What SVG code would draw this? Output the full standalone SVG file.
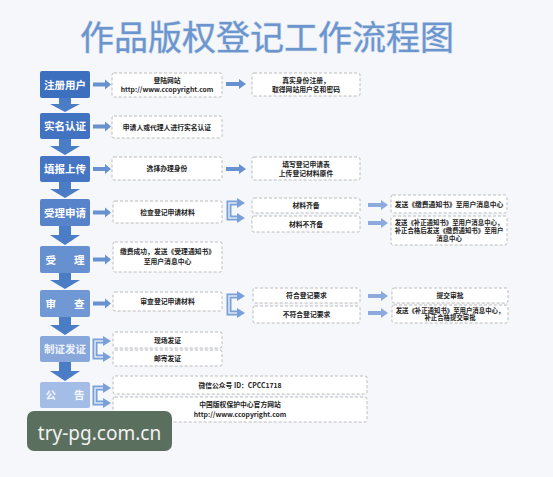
<svg xmlns="http://www.w3.org/2000/svg" width="553" height="477" viewBox="0 0 553 477">
<style>
.bg{fill:#f6f7fa}
.title{font-family:"Noto Sans CJK SC","Noto Sans",sans-serif;font-size:34px;fill:#6c95ce;stroke:#c9d7ec;stroke-width:1.2;paint-order:stroke;text-anchor:middle}
.step text{font-family:"Noto Sans CJK SC","Noto Sans",sans-serif;font-size:10.5px;font-weight:bold;fill:#fff;text-anchor:middle}
.box rect{fill:#fff;stroke:#b4b4b4;stroke-width:0.9;stroke-dasharray:3 2}
.box text{font-family:"Noto Sans CJK SC","Liberation Sans",sans-serif;font-size:6.8px;font-weight:bold;fill:#222;text-anchor:middle}
.down{fill:#4b7cc6}
.ra{fill:#6891cf}
.ra2{fill:#8cabdc}
.br{fill:none;stroke:#7aa0d8;stroke-width:5}
.bri{fill:none;stroke:#dde7f6;stroke-width:1.5}
.bah{fill:#7aa0d8}
.wm{fill:#5b6f5e}
.wmt{font-family:"Noto Sans","Open Sans",sans-serif;font-size:19px;fill:#f2f2f2;text-anchor:middle}
</style>
<rect class="bg" x="0" y="0" width="553" height="477"/>
<text class="title" x="267" y="50">作品版权登记工作流程图</text>

<g id="s1" class="step"><rect x="40" y="71" width="50" height="27" rx="2" fill="#3d6fbf"/><text x="65" y="88.5">注册用户</text></g>
<g id="s2" class="step"><rect x="40" y="113" width="50" height="26" rx="2" fill="#4273c1"/><text x="65" y="130">实名认证</text></g>
<g id="s3" class="step"><rect x="40" y="156" width="50" height="26" rx="2" fill="#4676c3"/><text x="65" y="173">填报上传</text></g>
<g id="s4" class="step"><rect x="40" y="199" width="50" height="27" rx="2" fill="#5683c9"/><text x="65" y="216.5">受理申请</text></g>
<g id="s5" class="step"><rect x="40" y="246" width="50" height="27" rx="2" fill="#6690d0"/><text x="65" y="263.5">受<tspan dx="18">理</tspan></text></g>
<g id="s6" class="step"><rect x="40" y="290" width="50" height="27" rx="2" fill="#7098d4"/><text x="65" y="307.5">审<tspan dx="18">查</tspan></text></g>
<g id="s7" class="step"><rect x="40" y="336" width="50" height="26" rx="2" fill="#88a8dc"/><text x="65" y="353" style="fill:#eef3fb">制证发证</text></g>
<g id="s8" class="step"><rect x="40" y="382" width="50" height="26" rx="2" fill="#a3bde6"/><text x="65" y="399" style="fill:#f4f7fc">公<tspan dx="18">告</tspan></text></g>

<g id="r1a" class="box"><rect x="112" y="73" width="110" height="24" rx="2"/><text x="167" y="83">登陆网站</text><text x="167" y="92">http://www.ccopyright.com</text></g>
<g id="r1b" class="box"><rect x="252" y="73" width="108" height="23" rx="2"/><text x="306" y="82.5">真实身份注册，</text><text x="306" y="91.5">取得网站用户名和密码</text></g>
<g id="r2a" class="box"><rect x="112" y="116" width="110" height="22" rx="2"/><text x="167" y="129.5">申请人或代理人进行实名认证</text></g>
<g id="r3a" class="box"><rect x="112" y="157" width="110" height="23" rx="2"/><text x="167" y="171">选择办理身份</text></g>
<g id="r3b" class="box"><rect x="252" y="157" width="108" height="23" rx="2"/><text x="306" y="166.5">填写登记申请表</text><text x="306" y="175.5">上传登记材料原件</text></g>
<g id="r4a" class="box"><rect x="113" y="201" width="109" height="22" rx="2"/><text x="167.5" y="214.5">检查登记申请材料</text></g>
<g id="r4b1" class="box"><rect x="252" y="198" width="108" height="15" rx="2"/><text x="306" y="208">材料齐备</text></g>
<g id="r4b2" class="box"><rect x="252" y="216" width="108" height="16" rx="2"/><text x="306" y="226.5">材料不齐备</text></g>
<g id="r4c1" class="box"><rect x="391" y="195" width="116" height="18" rx="2"/><text x="449" y="206.5">发送《缴费通知书》至用户消息中心</text></g>
<g id="r4c2" class="box"><rect x="391" y="216" width="116" height="29" rx="2"/><text x="449" y="224.5" style="font-size:6.4px">发送《补正通知书》至用户消息中心，</text><text x="449" y="232.5" style="font-size:6.4px">补正合格后发送《缴费通知书》至用户</text><text x="449" y="240.5" style="font-size:6.4px">消息中心</text></g>
<g id="r5a" class="box"><rect x="113" y="242" width="109" height="30" rx="2"/><text x="167.5" y="254">缴费成功，发送《受理通知书》</text><text x="167.5" y="264">至用户消息中心</text></g>
<g id="r6a" class="box"><rect x="113" y="292" width="109" height="19" rx="2"/><text x="167.5" y="304">审查登记申请材料</text></g>
<g id="r6b1" class="box"><rect x="253" y="288" width="107" height="15" rx="2"/><text x="306.5" y="298">符合登记要求</text></g>
<g id="r6b2" class="box"><rect x="253" y="306" width="107" height="17" rx="2"/><text x="306.5" y="317">不符合登记要求</text></g>
<g id="r6c1" class="box"><rect x="392" y="288" width="116" height="15" rx="2"/><text x="450" y="298">提交审批</text></g>
<g id="r6c2" class="box"><rect x="392" y="305" width="116" height="18" rx="2"/><text x="450" y="312.5" style="font-size:6.4px">发送《补正通知书》至用户消息中心，</text><text x="450" y="320" style="font-size:6.4px">补正合格提交审批</text></g>
<g id="r7a1" class="box"><rect x="113" y="332" width="109" height="16" rx="2"/><text x="167.5" y="342.5">现场发证</text></g>
<g id="r7a2" class="box"><rect x="113" y="350" width="109" height="16" rx="2"/><text x="167.5" y="360.5">邮寄发证</text></g>
<g id="r8a1" class="box"><rect x="113" y="376" width="254" height="18" rx="2"/><text x="240" y="387.5">微信公众号 ID：CPCC1718</text></g>
<g id="r8a2" class="box"><rect x="113" y="397" width="254" height="25" rx="2"/><text x="240" y="407">中国版权保护中心官方网站</text><text x="240" y="416.5">http://www.ccopyright.com</text></g>

<g id="connectors">
<polygon class="down" points="59,98 71,98 71,104 80,104 65,112 50,104 59,104"/>
<polygon class="down" points="59,139 71,139 71,146 80,146 65,155 50,146 59,146"/>
<polygon class="down" points="59,182 71,182 71,189 80,189 65,198 50,189 59,189"/>
<polygon class="down" points="59,226 71,226 71,235 80,235 65,245 50,235 59,235"/>
<polygon class="down" points="59,273 71,273 71,280 80,280 65,289 50,280 59,280"/>
<polygon class="down" points="59,317 71,317 71,325 80,325 65,335 50,325 59,325"/>
<polygon class="down" points="59,362 71,362 71,371 80,371 65,381 50,371 59,371"/>

<polygon class="ra" points="93,82.5 105,82.5 105,79.5 111,84.5 105,89.5 105,86.5 93,86.5"/>
<polygon class="ra" points="93,124.5 105,124.5 105,121.5 111,126.5 105,131.5 105,128.5 93,128.5"/>
<polygon class="ra" points="93,167 105,167 105,164 111,169 105,174 105,171 93,171"/>
<polygon class="ra" points="93,210.5 105,210.5 105,207.5 111,212.5 105,217.5 105,214.5 93,214.5"/>
<polygon class="ra" points="93,257.5 105,257.5 105,254.5 111,259.5 105,264.5 105,261.5 93,261.5"/>
<polygon class="ra" points="93,301.5 105,301.5 105,298.5 111,303.5 105,308.5 105,305.5 93,305.5"/>

<polygon class="ra" points="226,82 239,82 239,79 246,84 239,89 239,86 226,86"/>
<polygon class="ra" points="226,167 239,167 239,164 246,169 239,174 239,171 226,171"/>

<polygon class="ra2" points="368,203 381,203 381,200 388,205 381,210 381,207 368,207"/>
<polygon class="ra2" points="368,221 381,221 381,218 388,223 381,228 381,225 368,225"/>
<polygon class="ra2" points="368,294 381,294 381,291 388,296 381,301 381,298 368,298"/>
<polygon class="ra2" points="368,311 381,311 381,308 388,313 381,318 381,315 368,315"/>

<path class="br" d="M238,203 H229 V218 H238"/>
<path class="bri" d="M238,203 H229 V218 H238"/>
<polygon class="bah" points="237,198 245,203 237,208"/><polygon class="bah" points="237,213 245,218 237,223"/>
<path class="br" d="M238,296 H229 V313 H238"/>
<path class="bri" d="M238,296 H229 V313 H238"/>
<polygon class="bah" points="237,291 245,296 237,301"/><polygon class="bah" points="237,308 245,313 237,318"/>
<path class="br" d="M104,341 H95 V357 H104"/>
<path class="bri" d="M104,341 H95 V357 H104"/>
<polygon class="bah" points="103,336 111,341 103,346"/><polygon class="bah" points="103,352 111,357 103,362"/>
<path class="br" d="M104,388 H95 V403 H104"/>
<path class="bri" d="M104,388 H95 V403 H104"/>
<polygon class="bah" points="103,383 111,388 103,393"/><polygon class="bah" points="103,398 111,403 103,408"/>
</g>

<g id="watermark"><rect class="wm" x="27" y="411" width="145" height="40" rx="7"/><text class="wmt" x="99.5" y="440">try-pg.com.cn</text></g>
</svg>
